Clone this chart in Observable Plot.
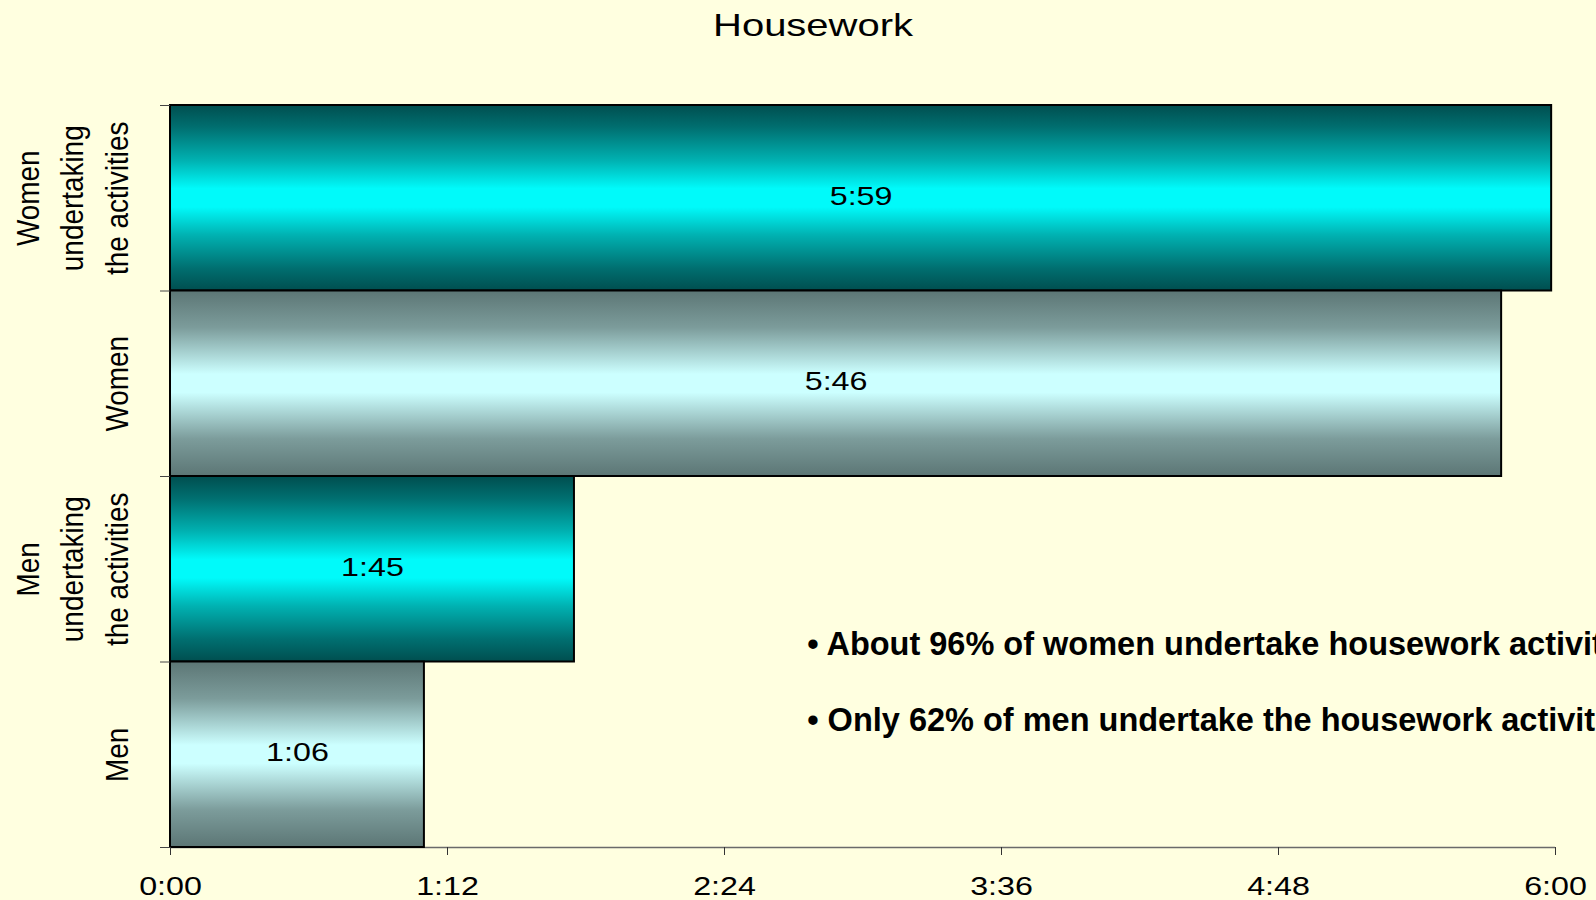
<!DOCTYPE html>
<html>
<head>
<meta charset="utf-8">
<script src="https://cdn.jsdelivr.net/npm/d3@7"></script>
<script src="https://cdn.jsdelivr.net/npm/@observablehq/plot@0.6"></script>
<style>
  html, body { margin: 0; padding: 0; background: #ffffe0; overflow: hidden; width: 1596px; height: 900px; }
  #title { height: 50px; line-height: 50px; text-align: center; padding-left: 30px; box-sizing: border-box; }
  #title span { display: inline-block; font-family: Arial, "Liberation Sans", sans-serif; font-size: 32px; color: #000; transform: scaleX(1.25); }
</style>
</head>
<body>
<svg width="0" height="0" style="position:absolute">
  <defs>
    <linearGradient id="tealGrad" x1="0" y1="0" x2="0" y2="1">
      <stop offset="0" stop-color="#004e4f"/>
      <stop offset="0.12" stop-color="#006f70"/>
      <stop offset="0.3" stop-color="#00b2b2"/>
      <stop offset="0.45" stop-color="#00fafa"/>
      <stop offset="0.55" stop-color="#00fafa"/>
      <stop offset="0.7" stop-color="#00b2b2"/>
      <stop offset="0.88" stop-color="#006f70"/>
      <stop offset="1" stop-color="#004e4f"/>
    </linearGradient>
    <linearGradient id="grayGrad" x1="0" y1="0" x2="0" y2="1">
      <stop offset="0" stop-color="#5c7675"/>
      <stop offset="0.2" stop-color="#7c9c9b"/>
      <stop offset="0.45" stop-color="#ccffff"/>
      <stop offset="0.55" stop-color="#ccffff"/>
      <stop offset="0.8" stop-color="#7c9c9b"/>
      <stop offset="1" stop-color="#5c7675"/>
    </linearGradient>
  </defs>
</svg>
<div id="title"><span>Housework</span></div>
<div id="chart"></div>
<script>
// ---- data ----
const categories = ["Women\nundertaking\nthe activities", "Women", "Men\nundertaking\nthe activities", "Men"];
const minutes = [359, 346, 105, 66];          // 5:59, 5:46, 1:45, 1:06
const groups = ["participants", "all", "participants", "all"];
const xTicks = [0, 72, 144, 216, 288, 360];   // 0:00 ... 6:00
const notes = [
  "\u2022 About 96% of women undertake housework activities",
  "\u2022 Only 62% of men undertake the housework activities"
];
const noteX = 165.5;   // minutes
const noteY = 3.035;   // row index

const fmt = m => `${Math.floor(m / 60)}:${String(m % 60).padStart(2, "0")}`;
const rows = categories.map((c, i) => ({category: c, minutes: minutes[i], group: groups[i], idx: i}));

const chart = Plot.plot({
  width: 1596,
  height: 850,
  marginLeft: 170,
  marginRight: 41,
  marginTop: 55,
  marginBottom: 53,
  style: {background: "transparent", fontFamily: "Arial, 'Liberation Sans', sans-serif", color: "#000", overflow: "hidden"},
  x: {domain: [0, 360]},
  y: {domain: [0, 4], reverse: true},
  marks: [
    Plot.ruleY([4], {stroke: "#6a6a6a", strokeWidth: 1.5}),
    Plot.rect(rows, {filter: d => d.group === "participants", x1: 0, x2: "minutes", y1: "idx", y2: d => d.idx + 1,
      fill: "url(#tealGrad)", stroke: "#000", strokeWidth: 2}),
    Plot.rect(rows, {filter: d => d.group === "all", x1: 0, x2: "minutes", y1: "idx", y2: d => d.idx + 1,
      fill: "url(#grayGrad)", stroke: "#000", strokeWidth: 2}),
    Plot.axisX({ticks: xTicks, tickFormat: fmt, tickSize: 8, tickPadding: 21, fontSize: 26, stroke: "#333", label: null}),
    Plot.axisY({ticks: [0, 1, 2, 3, 4], tickSize: 10, tickFormat: () => "", stroke: "#444", label: null}),
    Plot.text(rows, {y: d => d.idx + 0.5, text: "category", frameAnchor: "left", dx: -43, rotate: -90,
      textAnchor: "middle", lineAnchor: "bottom", lineHeight: 1.42, fontSize: 31}),
    Plot.text(rows, {x: d => d.minutes / 2, y: d => d.idx + 0.5, text: d => fmt(d.minutes), fontSize: 26, dy: -2}),
    Plot.text([notes.join("\n")], {x: noteX, y: noteY, text: d => d, textAnchor: "start", lineAnchor: "middle",
      lineHeight: 2.35, fontSize: 32.5, fontWeight: "bold"})
  ]
});
document.getElementById("chart").appendChild(chart);

// horizontal glyph stretch like the reference rendering
const labelLines = new Set(categories.flatMap(c => c.split("\n")));
function stretchEl(el, k) {
  const L = el.getComputedTextLength();
  el.setAttribute("textLength", L * k);
  el.setAttribute("lengthAdjust", "spacingAndGlyphs");
}
chart.querySelectorAll("text").forEach(t => {
  const spans = t.querySelectorAll("tspan");
  const parts = spans.length ? Array.from(spans) : [t];
  parts.forEach(p => {
    const s = p.textContent.trim();
    if (/^\d:\d\d$/.test(s)) stretchEl(p, 1.24);
    else if (labelLines.has(s)) stretchEl(p, 0.9);
  });
});
</script>
</body>
</html>
